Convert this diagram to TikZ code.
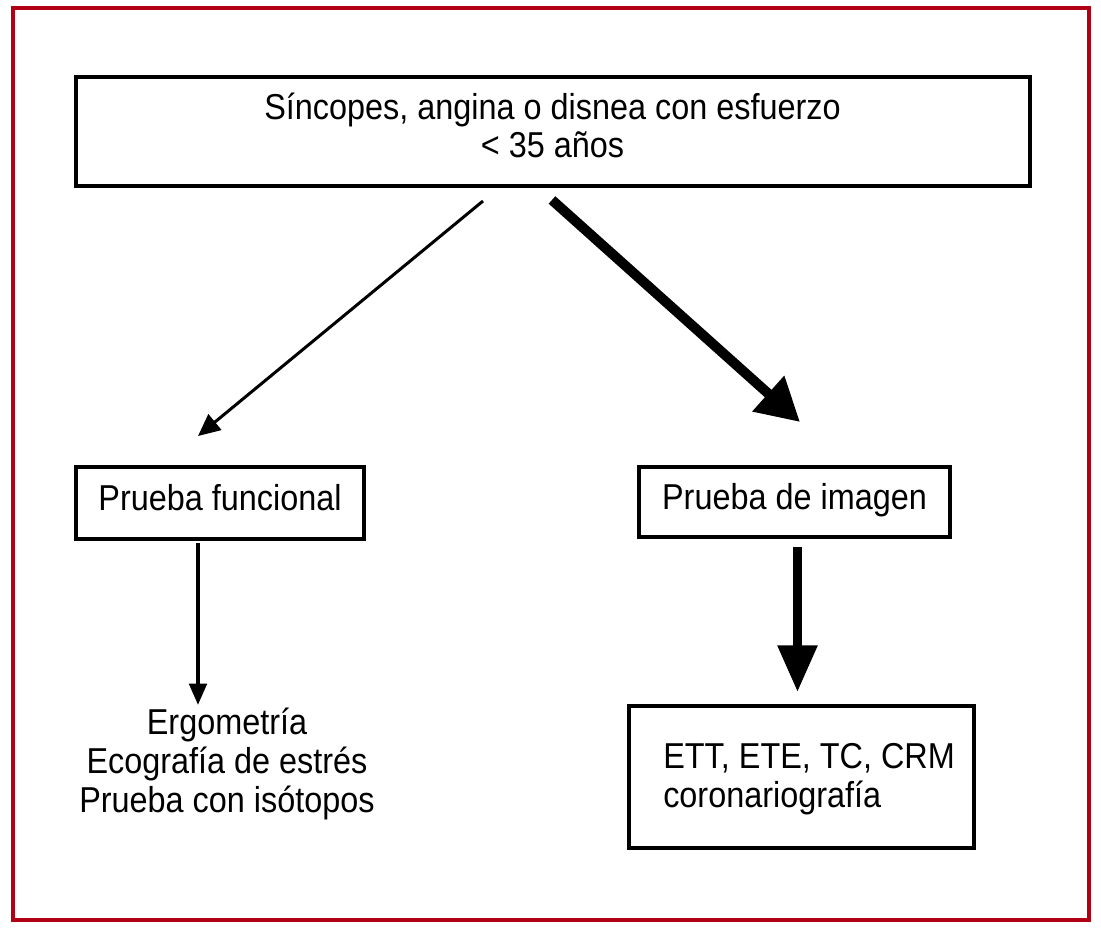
\documentclass[tikz,border=0pt]{standalone}
\usepackage{fontspec}
\setmainfont[FakeStretch=0.9]{Liberation Sans}
\usetikzlibrary{arrows.meta}
\definecolor{framered}{RGB}{180,0,20}
\begin{document}
\begin{tikzpicture}[x=0.75pt,y=-0.75pt,
  box/.style={draw, line width=3pt, inner sep=0pt, align=center,
              text height=19.4pt, text depth=8.9pt,
              font=\fontsize{27pt}{28.5pt}\selectfont},
  lbl/.style={inner sep=0pt, font=\fontsize{27pt}{29pt}\selectfont},
  thinarr/.style={line width=2.25pt, -{Triangle[length=16.5pt,width=15pt]}},
  thickarr/.style={line width=7.5pt, -{Triangle[length=32pt,width=34pt]}},
  vthin/.style={line width=3pt, -{Triangle[length=16pt,width=13pt]}},
  vthick/.style={line width=6.75pt, -{Triangle[length=35pt,width=28.5pt]}}
]
\useasboundingbox (0,0) rectangle (1101,931);
\draw[framered, line width=3pt] (13,8) rectangle (1088.5,919.5);

\node[draw, line width=3pt, minimum width=715.5pt, minimum height=81.75pt] (top) at (552.5,131.5) {};
\node[lbl, align=center, anchor=base] (toptxt) at (552.5,158)
  {Síncopes, angina o disnea con esfuerzo\\\textless{} 35 años};
\node[box, minimum width=216pt, minimum height=54pt] (pf) at (220,503) {Prueba funcional};
\node[box, minimum width=233.25pt, minimum height=52.5pt] (pi) at (794.5,502) {Prueba de imagen};
\node[draw, line width=3pt, minimum width=258.75pt, minimum height=106.5pt] (ett) at (801.5,777) {};
\node[lbl, align=left, anchor=base west] (etttxt) at (663,807) {ETT, ETE, TC, CRM\\coronariografía};
\node[lbl, align=center] (ergo) at (227,764) {Ergometría\\Ecografía de estrés\\Prueba con isótopos};

\coordinate (a1s) at (483,201);
\coordinate (a1e) at (198,436);
\coordinate (a2s) at (552,200);
\coordinate (a2e) at (800,422);
\coordinate (a3s) at (198,543);
\coordinate (a3e) at (198,705);
\coordinate (a4s) at (797.5,547);
\coordinate (a4e) at (797.5,692);

\draw[thinarr] (a1s) -- (a1e);
\draw[thickarr] (a2s) -- (a2e);
\draw[vthin] (a3s) -- (a3e);
\draw[vthick] (a4s) -- (a4e);
\end{tikzpicture}
\end{document}
